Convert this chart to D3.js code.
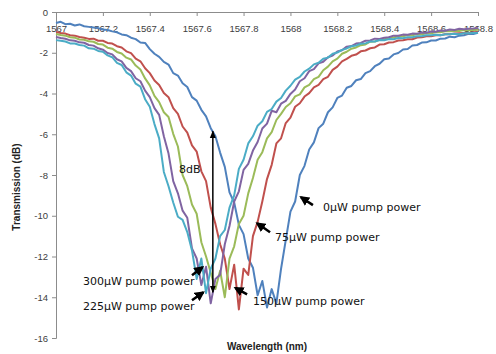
<!DOCTYPE html>
<html>
<head>
<meta charset="utf-8">
<script src="https://cdn.jsdelivr.net/npm/d3@7"></script>
<style>
  body { margin: 0; background: #fff; }
  svg { display: block; }
  .axis text { font-family: "Liberation Sans", Arial, sans-serif; font-size: 9.5px; fill: #404040; }
  .axis path, .axis line { stroke: #8c8c8c; }
  .title { font-family: "Liberation Sans", Arial, sans-serif; font-size: 10px; font-weight: bold; fill: #222; }
  .note { font-family: "DejaVu Sans", sans-serif; font-size: 11px; fill: #111; }
</style>
</head>
<body>
<div id="chart"></div>
<script>
// wavelength grid (nm)
const wavelengths = [
  1567.00, 1567.02, 1567.04, 1567.06, 1567.08, 1567.10, 1567.12, 1567.14, 1567.16, 1567.18,
  1567.20, 1567.22, 1567.24, 1567.26, 1567.28, 1567.30, 1567.32, 1567.34, 1567.36, 1567.38,
  1567.40, 1567.42, 1567.44, 1567.46, 1567.48, 1567.50, 1567.52, 1567.54, 1567.56, 1567.58,
  1567.60, 1567.62, 1567.64, 1567.66, 1567.68, 1567.70, 1567.72, 1567.74, 1567.76, 1567.78,
  1567.80, 1567.82, 1567.84, 1567.86, 1567.88, 1567.90, 1567.92, 1567.94, 1567.96, 1567.98,
  1568.00, 1568.02, 1568.04, 1568.06, 1568.08, 1568.10, 1568.12, 1568.14, 1568.16, 1568.18,
  1568.20, 1568.22, 1568.24, 1568.26, 1568.28, 1568.30, 1568.32, 1568.34, 1568.36, 1568.38,
  1568.40, 1568.42, 1568.44, 1568.46, 1568.48, 1568.50, 1568.52, 1568.54, 1568.56, 1568.58,
  1568.60, 1568.62, 1568.64, 1568.66, 1568.68, 1568.70, 1568.72, 1568.74, 1568.76, 1568.78,
  1568.80
];

// transmission (dB) per pump power
const pump0 = [
  -0.54, -0.48, -0.60, -0.58, -0.66, -0.61, -0.70, -0.73, -0.76, -0.79,
  -0.86, -0.88, -0.95, -1.00, -1.10, -1.14, -1.26, -1.33, -1.50, -1.52,
  -1.82, -2.05, -2.20, -2.45, -2.58, -3.00, -3.12, -3.50, -3.68, -4.18,
  -4.35, -4.80, -5.12, -5.70, -6.10, -6.90, -7.60, -8.85, -9.35, -10.45,
  -10.90, -12.10, -12.55, -13.90, -13.20, -14.50, -13.60, -14.30, -12.60, -11.20,
  -9.80, -9.30, -8.00, -7.55, -6.75, -6.40, -5.70, -5.48, -4.92, -4.68,
  -4.22, -4.10, -3.72, -3.63, -3.35, -3.29, -3.00, -2.90, -2.66, -2.54,
  -2.32, -2.28, -2.08, -2.01, -1.84, -1.82, -1.64, -1.62, -1.50, -1.49,
  -1.40, -1.40, -1.31, -1.30, -1.21, -1.24, -1.16, -1.14, -1.07, -1.08,
  -1.02
];
const pump75 = [
  -0.98, -1.03, -1.06, -1.14, -1.16, -1.23, -1.26, -1.32, -1.31, -1.41,
  -1.41, -1.52, -1.55, -1.68, -1.74, -1.93, -2.02, -2.29, -2.42, -2.76,
  -3.00, -3.36, -3.58, -3.98, -4.18, -4.72, -5.00, -5.62, -5.92, -6.55,
  -6.85, -7.82, -8.30, -9.60, -10.40, -11.40, -12.10, -13.60, -12.40, -14.60,
  -12.60, -12.90, -11.00, -10.30, -9.30, -8.20, -7.50, -6.45, -6.20, -5.45,
  -5.18, -4.65, -4.48, -4.15, -3.98, -3.70, -3.58, -3.30, -3.18, -2.84,
  -2.68, -2.42, -2.30, -2.15, -2.09, -1.93, -1.89, -1.78, -1.74, -1.60,
  -1.58, -1.50, -1.48, -1.40, -1.39, -1.34, -1.34, -1.25, -1.24, -1.19,
  -1.19, -1.14, -1.14, -1.09, -1.09, -1.05, -1.04, -1.03, -1.04, -0.99,
  -0.98
];
const pump150 = [
  -1.08, -1.13, -1.16, -1.24, -1.26, -1.35, -1.36, -1.44, -1.46, -1.57,
  -1.60, -1.75, -1.80, -1.96, -2.04, -2.24, -2.33, -2.63, -2.82, -3.26,
  -3.60, -4.12, -4.42, -4.92, -5.15, -5.98, -6.60, -8.00, -8.55, -9.45,
  -9.90, -11.30, -12.00, -12.80, -13.60, -12.70, -14.00, -12.10, -11.50, -10.40,
  -10.00, -8.90, -8.15, -7.25, -6.88, -6.20, -5.90, -5.30, -5.00, -4.66,
  -4.48, -4.14, -4.04, -3.70, -3.58, -3.30, -3.18, -2.86, -2.68, -2.42,
  -2.29, -2.05, -1.95, -1.80, -1.74, -1.63, -1.59, -1.46, -1.45, -1.36,
  -1.35, -1.26, -1.25, -1.19, -1.19, -1.13, -1.14, -1.08, -1.09, -1.04,
  -1.04, -0.99, -0.99, -0.95, -0.94, -0.93, -0.93, -0.89, -0.89, -0.88,
  -0.87
];
const pump225 = [
  -1.23, -1.28, -1.31, -1.39, -1.41, -1.49, -1.51, -1.62, -1.65, -1.78,
  -1.85, -2.01, -2.08, -2.32, -2.42, -2.74, -2.90, -3.25, -3.40, -3.86,
  -4.18, -4.72, -5.05, -6.10, -6.95, -8.30, -8.90, -9.75, -10.10, -11.60,
  -12.10, -13.40, -12.50, -14.30, -13.10, -12.90, -11.40, -10.50, -9.30, -8.80,
  -7.75, -7.45, -6.80, -6.38, -5.72, -5.48, -4.85, -4.92, -4.50, -4.36,
  -4.02, -3.80, -3.40, -3.25, -2.90, -2.80, -2.52, -2.44, -2.22, -2.14,
  -1.94, -1.88, -1.70, -1.67, -1.55, -1.52, -1.41, -1.40, -1.31, -1.32,
  -1.26, -1.24, -1.16, -1.17, -1.11, -1.12, -1.06, -1.07, -1.01, -1.02,
  -0.96, -0.97, -0.91, -0.92, -0.86, -0.88, -0.82, -0.85, -0.82, -0.81,
  -0.78
];
const pump300 = [
  -1.38, -1.41, -1.45, -1.54, -1.55, -1.62, -1.65, -1.78, -1.80, -1.91,
  -1.95, -2.13, -2.22, -2.50, -2.60, -2.96, -3.12, -3.52, -3.66, -4.28,
  -4.65, -5.50, -6.20, -7.85, -8.55, -9.35, -10.05, -10.20, -10.80, -11.70,
  -13.10, -12.10, -13.80, -12.60, -12.10, -11.00, -10.70, -9.60, -9.00, -7.70,
  -7.25, -6.45, -6.10, -5.58, -5.36, -4.90, -4.76, -4.40, -4.22, -3.86,
  -3.62, -3.32, -3.18, -2.92, -2.78, -2.57, -2.49, -2.29, -2.24, -2.05,
  -1.99, -1.86, -1.79, -1.68, -1.64, -1.56, -1.54, -1.45, -1.45, -1.38,
  -1.39, -1.33, -1.34, -1.28, -1.29, -1.24, -1.24, -1.19, -1.19, -1.14,
  -1.14, -1.12, -1.14, -1.09, -1.09, -1.07, -1.09, -1.04, -1.04, -1.03,
  -1.02
];

const seriesNames = ['0µW', '75µW', '150µW', '225µW', '300µW'];
const seriesValues = [pump0, pump75, pump150, pump225, pump300];
const colors = ['#4f81bd', '#c0504d', '#9bbb59', '#8064a2', '#4bacc6'];

const xTicks = [1567, 1567.2, 1567.4, 1567.6, 1567.8, 1568, 1568.2, 1568.4, 1568.6, 1568.8];
const xTickLabels = ['1567', '1567.2', '1567.4', '1567.6', '1567.8', '1568', '1568.2', '1568.4', '1568.6', '1568.8'];
const yTicks = [0, -2, -4, -6, -8, -10, -12, -14, -16];

// annotation labels: [text, label wl, label dB, arrow tail wl, tail dB, head wl, head dB]
const notes = [
  ['0µW pump power', 1568.139, -9.63, 1568.096, -9.48, 1568.045, -9.09],
  ['75µW pump power', 1567.934, -11.1, 1567.913, -10.81, 1567.858, -10.37],
  ['150µW pump power', 1567.840, -14.25, 1567.815, -13.86, 1567.765, -13.54],
  ['300µW pump power', 1567.115, -13.27, 1567.580, -12.92, 1567.625, -12.53],
  ['225µW pump power', 1567.115, -14.5, 1567.580, -14.15, 1567.628, -13.76]
];

const width = 496, height = 354;
const margin = {top: 12, right: 18, bottom: 16, left: 56};
const w = width - margin.left - margin.right;
const h = height - margin.top - margin.bottom;

const svg = d3.select('#chart')
    .append('svg')
    .attr('width', width)
    .attr('height', height);

const defs = svg.append('defs');
defs.append('marker')
    .attr('id', 'head')
    .attr('viewBox', '0 0 10 10')
    .attr('refX', 8).attr('refY', 5)
    .attr('markerWidth', 4).attr('markerHeight', 4)
    .attr('orient', 'auto-start-reverse')
    .append('path')
    .attr('d', 'M0,0 L10,5 L0,10 z')
    .attr('fill', '#000');
defs.append('marker')
    .attr('id', 'thin')
    .attr('viewBox', '0 0 10 10')
    .attr('refX', 9).attr('refY', 5)
    .attr('markerWidth', 5).attr('markerHeight', 5)
    .attr('orient', 'auto-start-reverse')
    .append('path')
    .attr('d', 'M0,1 L10,5 L0,9 z')
    .attr('fill', '#000');

const g = svg.append('g')
    .attr('transform', 'translate(' + margin.left + ',' + margin.top + ')');

const x = d3.scaleLinear().domain([1567, 1568.8]).range([0, w]);
const y = d3.scaleLinear().domain([-16, 0]).range([h, 0]);

// y axis
const yAxis = d3.axisLeft(y)
    .tickValues(yTicks)
    .tickSize(4)
    .tickPadding(4)
    .tickFormat(d => String(d));
g.append('g').attr('class', 'axis').call(yAxis);

// x axis on the 0 dB line, labels underneath
const xAxis = d3.axisBottom(x)
    .tickValues(xTicks)
    .tickSize(4)
    .tickPadding(9)
    .tickFormat((d, i) => xTickLabels[i]);
g.append('g').attr('class', 'axis')
    .attr('transform', 'translate(0,' + y(0) + ')')
    .call(xAxis);

// curves
const line = d3.line()
    .x((d, i) => x(wavelengths[i]))
    .y(d => y(d));

g.append('g')
    .selectAll('path')
    .data(seriesValues)
    .enter()
    .append('path')
    .attr('fill', 'none')
    .attr('stroke', (d, i) => colors[i])
    .attr('stroke-width', 2)
    .attr('stroke-linejoin', 'round')
    .attr('d', line);

// 8dB marker
g.append('line')
    .attr('x1', x(1567.669)).attr('x2', x(1567.669))
    .attr('y1', y(-5.85)).attr('y2', y(-13.76))
    .attr('stroke', '#000')
    .attr('stroke-width', 1.5)
    .attr('marker-start', 'url(#thin)')
    .attr('marker-end', 'url(#thin)');
g.append('text')
    .attr('class', 'note')
    .attr('x', x(1567.525))
    .attr('y', y(-7.76))
    .attr('dominant-baseline', 'middle')
    .text('8dB');

// pump power labels
const notesG = g.append('g');
notesG.selectAll('line')
    .data(notes)
    .enter()
    .append('line')
    .attr('x1', d => x(d[3])).attr('y1', d => y(d[4]))
    .attr('x2', d => x(d[5])).attr('y2', d => y(d[6]))
    .attr('stroke', '#000')
    .attr('stroke-width', 2.5)
    .attr('marker-end', 'url(#head)');
notesG.selectAll('text')
    .data(notes)
    .enter()
    .append('text')
    .attr('class', 'note')
    .attr('x', d => x(d[1]))
    .attr('y', d => y(d[2]))
    .attr('dominant-baseline', 'middle')
    .text(d => d[0]);

// axis titles
svg.append('text')
    .attr('class', 'title')
    .attr('transform', 'translate(20,' + (margin.top + h / 2 + 12) + ') rotate(-90)')
    .attr('text-anchor', 'middle')
    .text('Transmission (dB)');
svg.append('text')
    .attr('class', 'title')
    .attr('x', 267)
    .attr('y', 347)
    .attr('text-anchor', 'middle')
    .attr('dominant-baseline', 'middle')
    .text('Wavelength (nm)');
</script>
</body>
</html>
